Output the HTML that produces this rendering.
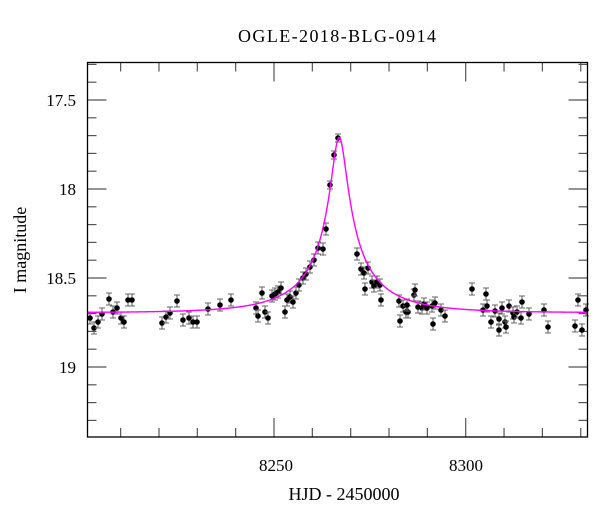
<!DOCTYPE html>
<html><head><meta charset="utf-8"><style>
html,body{margin:0;padding:0;background:#fff;}
svg{display:block;font-family:"Liberation Serif",serif;}
</style></head><body>
<svg id="s" width="600" height="512" xmlns="http://www.w3.org/2000/svg">
<rect width="600" height="512" fill="#fff"/>
<text x="337" y="42" font-size="18" text-anchor="middle" textLength="198">OGLE-2018-BLG-0914</text>
<text x="276" y="471" font-size="17" text-anchor="middle">8250</text>
<text x="466" y="471" font-size="17" text-anchor="middle">8300</text>
<text x="344" y="500" font-size="18" text-anchor="middle">HJD - 2450000</text>
<text x="76" y="106" font-size="17" text-anchor="end">17.5</text>
<text x="76" y="195" font-size="17" text-anchor="end">18</text>
<text x="76" y="284" font-size="17" text-anchor="end">18.5</text>
<text x="76" y="373" font-size="17" text-anchor="end">19</text>
<text transform="translate(26,250) rotate(-90)" font-size="18" text-anchor="middle">I magnitude</text>
<g id="ticks" stroke="#555" stroke-width="1.2"></g>
<g id="pts"></g>
<path id="model" fill="none" stroke="#ff00ff" stroke-width="1.4"/>
<rect x="87.5" y="62.5" width="500" height="374.5" fill="none" stroke="#000" stroke-width="1.3"/>
</svg>
<script>
var L=87.5,R=587.5,T=62.5,B=437;
function X(d){return 274+(d-8250)*3.834;}
function Y(m){return 189+(m-18)*178;}
var t=document.getElementById('ticks'),h='';
for(var d=8210;d<=8330;d+=10){var x=X(d),len=(d%50==0)?19:9;
h+='<line x1="'+x+'" y1="'+T+'" x2="'+x+'" y2="'+(T+len)+'"/><line x1="'+x+'" y1="'+B+'" x2="'+x+'" y2="'+(B-len)+'"/>';}
for(var k=173;k<=193;k++){var m=k/10,y=Y(m);if(y<T||y>B)continue;var len=(k%5==0)?19:9;
h+='<line x1="'+L+'" y1="'+y+'" x2="'+(L+len)+'" y2="'+y+'"/><line x1="'+R+'" y1="'+y+'" x2="'+(R-len)+'" y2="'+y+'"/>';}
t.innerHTML=h;
var P=[[90,318],[94,328],[98,322],[102,314],[109,299],[113,312],[117,308],[121,318],[124,322],[128,300],[132,300],[162,323],[166,317],[170,313],[177,301],[183,320],[189,318],[193,322],[197,322],[208,309],[220,305],[231,300],[256,308],[258,316],[262,293],[265,312],[268,318],[272,296],[275,294],[278,292],[281,288],[285,312],[287,300],[290,297],[293,302],[296,293],[299,285],[303,278],[306,274],[310,267],[314,260],[318,248],[323,249],[326,229],[330,185],[334,155],[338,138],[357,254],[361,269],[364,273],[365,289],[368,268],[372,282],[374,286],[377,282],[380,285],[381,300],[399,301],[400,321],[403,306],[406,312],[408,312],[407,305],[414,295],[415,290],[418,307],[422,308],[424,304],[427,308],[432,306],[433,324],[435,303],[441,310],[445,316],[472,289],[483,310],[486,294],[487,306],[491,322],[495,311],[499,319],[499,330],[502,308],[505,322],[506,327],[509,306],[513,313],[514,317],[517,312],[521,318],[522,302],[529,314],[544,310],[548,327],[575,326],[578,300],[582,330],[586,310]];
var g='';P.forEach(function(p){var e=(p[1]<200)?4:6;var x=p[0],y=p[1];
g+='<path d="M'+x+' '+(y-e)+'V'+(y+e)+'M'+(x-3)+' '+(y-e)+'h6M'+(x-3)+' '+(y+e)+'h6" stroke="#666" stroke-width="1.1" fill="none"/><circle cx="'+x+'" cy="'+y+'" r="2.8" fill="#000"/>';});
document.getElementById('pts').innerHTML=g;
var u0=0.1,tE=20,t0=8267.0,base=18.695;
function A(u){return (u*u+2)/(u*Math.sqrt(u*u+4));}
var A0=A(u0),fs=(Math.pow(10,0.4*(base-17.71))-1)/(A0-1),dpath='';
for(var px=L;px<=R;px+=0.5){var d=8250+(px-274)/3.834;var u=Math.sqrt(u0*u0+Math.pow((d-t0)/tE,2));
var f=1+fs*(A(u)-1);var m=base-2.5*Math.log10(f);dpath+=(px==L?'M':'L')+px.toFixed(1)+' '+Y(m).toFixed(2);}
document.getElementById('model').setAttribute('d',dpath);
</script>
</body></html>
